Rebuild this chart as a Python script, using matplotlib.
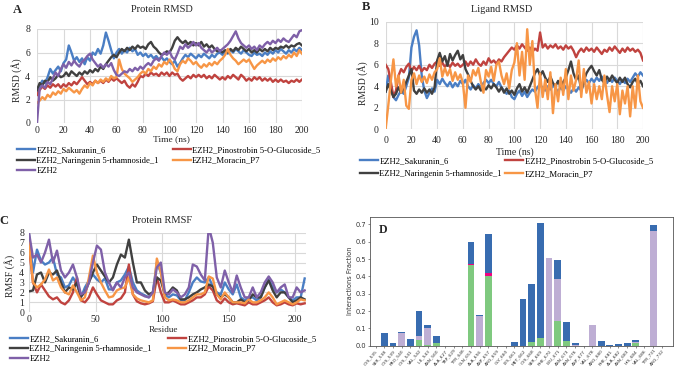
import numpy as np
import matplotlib
matplotlib.use("Agg")
import matplotlib.pyplot as plt

plt.rcParams['font.family'] = ['Liberation Serif', 'DejaVu Serif']

# Series names / colours (Excel-like palette)
names = ["EZH2_Sakuranin_6", "EZH2_Pinostrobin 5-O-Glucoside_5",
         "EZH2_Naringenin 5-rhamnoside_1", "EZH2_Moracin_P7", "EZH2"]
colors = ["#4a7ec4", "#c0433f", "#404040", "#f79646", "#7f60a8"]

# Panel A: protein RMSD, every 2 ns
time_ns = np.arange(0, 201, 2)
prot_sak = [2.4, 3.2, 3.6, 3.4, 3.9, 4.6, 4.2, 4.5, 4.8, 4.4,
            5.1, 5.4, 6.6, 6.0, 5.3, 5.6, 5.2, 5.5, 5.0, 5.6,
            5.3, 6.0, 5.8, 6.3, 5.9, 6.6, 7.7, 7.0, 6.2, 5.5,
            6.0, 6.3, 5.9, 6.2, 6.0, 6.4, 6.1, 6.3, 5.8, 6.0,
            5.7, 5.9, 5.6, 5.8, 5.5, 5.7, 5.4, 5.6, 5.3, 5.5,
            5.2, 5.0, 5.3, 4.8, 5.1, 5.5, 5.8, 5.6, 5.9, 5.7,
            5.5, 5.8, 5.6, 5.9, 5.7, 5.5, 5.8, 5.6, 5.9, 6.0,
            5.8, 6.1, 5.9, 6.2, 6.0, 6.3, 6.1, 5.9, 6.2, 6.0,
            5.8, 5.7, 6.0, 5.8, 5.9, 5.7, 6.0, 5.8, 6.1, 5.9,
            6.2, 6.0, 6.3, 6.1, 5.9, 6.2, 6.0, 6.3, 6.1, 6.4, 6.2]
prot_pino = [2.4, 2.8, 3.1, 2.9, 3.2, 3.0, 3.3, 3.1, 3.3, 3.0,
             3.3, 3.1, 3.4, 3.2, 3.5, 3.3, 3.6, 3.9, 3.6, 3.3,
             3.5, 3.3, 3.6, 3.4, 3.6, 3.4, 3.7, 3.5, 3.8, 3.6,
             3.8, 3.6, 3.4, 3.6, 3.2, 3.0, 3.3, 3.1, 3.5, 4.0,
             3.9, 4.2, 4.0, 4.3, 4.1, 4.2, 4.0, 4.3, 4.1, 4.3,
             4.0, 4.3, 4.1, 4.2, 3.8, 3.6, 3.8, 4.0, 3.8, 4.1,
             3.9, 4.1, 3.9, 4.1, 3.8, 4.0, 3.8, 4.1, 3.9, 3.7,
             3.9, 3.7, 4.0, 3.8, 4.1, 3.9, 3.7, 4.1, 3.9, 3.6,
             3.8, 3.6, 3.9, 3.7, 3.9, 3.6, 3.8, 3.6, 3.8, 3.5,
             3.7, 3.5, 3.7, 3.5, 3.6, 3.4, 3.6, 3.5, 3.7, 3.5, 3.7]
prot_nar = [2.8, 3.4, 3.2, 3.6, 3.5, 3.9, 3.6, 3.8, 4.1, 3.9,
            4.0, 4.3, 4.0, 4.4, 4.2, 4.0, 4.3, 4.1, 4.4, 4.2,
            4.5, 4.3, 4.6, 4.4, 4.8, 4.6, 5.0, 5.3, 5.6, 5.8,
            5.6, 6.0, 6.3, 6.1, 6.4, 6.2, 6.5, 6.3, 6.6, 6.4,
            6.5, 6.3, 6.7, 6.9, 6.5, 6.3, 6.0, 5.8, 5.9, 6.1,
            6.0, 6.4, 7.0, 7.3, 7.0, 6.8, 7.0, 6.7, 6.9, 6.6,
            6.8, 6.6, 6.9, 6.5, 6.7, 6.4, 6.6, 6.3, 6.1, 6.2,
            6.0, 6.2, 6.0, 6.3, 6.1, 6.4, 6.2, 6.5, 6.3, 6.1,
            6.3, 6.0, 6.2, 6.0, 6.3, 6.1, 6.3, 6.1, 6.4, 6.2,
            6.4, 6.3, 6.5, 6.4, 6.6, 6.4, 6.6, 6.5, 6.7, 6.8, 6.6]
prot_mor = [1.7, 1.9, 2.2, 2.0, 2.4, 2.2, 2.6, 2.4, 2.7, 2.5,
            2.9, 2.7, 3.0, 2.8, 2.6, 2.8, 2.5, 2.9, 3.2, 3.0,
            3.4, 3.2, 3.6, 3.4, 3.7, 3.5, 3.8, 3.6, 4.0, 3.8,
            3.9, 5.4, 4.6, 4.2, 4.0, 3.8, 3.5, 3.7, 3.9, 4.2,
            4.4, 4.2, 4.6, 4.4, 4.8, 4.6, 5.0, 4.8, 5.2, 5.0,
            5.4, 5.1, 4.6, 4.4, 5.0, 5.3, 5.1, 5.5, 5.3, 5.0,
            5.2, 4.9, 4.7, 5.0, 4.8, 5.1, 4.9, 5.2, 5.0, 5.3,
            5.5, 5.8, 6.3, 5.8, 5.5, 5.3, 5.0, 5.2, 5.4, 5.2,
            5.4, 5.0, 4.6, 4.9, 5.1, 5.3, 5.1, 5.4, 5.2, 5.5,
            5.3, 5.6, 5.4, 5.7, 5.5, 5.8, 5.6, 6.0, 5.7, 6.2, 5.9]
prot_ezh2 = [0.0, 2.9, 3.2, 3.0, 3.5, 3.3, 3.8, 4.3, 4.0, 4.6,
             5.0, 4.7, 5.2, 4.9, 5.3, 5.0, 4.8, 5.2, 5.4, 5.7,
             5.9, 5.4, 5.1, 4.8, 5.0, 4.7, 5.0, 4.8, 5.1, 4.5,
             4.1, 4.0, 4.2, 4.4, 4.3, 4.6, 4.4, 4.7, 4.5, 4.8,
             4.6, 4.9, 5.1, 4.9, 5.3, 5.5, 5.3, 5.7, 6.0, 5.8,
             6.1, 5.6, 5.4, 5.9, 6.5, 6.3, 6.7, 6.4, 6.6, 6.9,
             6.6, 6.8, 6.4, 6.2, 6.0, 6.3, 6.0, 6.2, 6.4, 6.1,
             6.3, 6.5, 6.7, 7.0, 7.4, 7.8, 7.2, 6.8, 6.6, 6.4,
             6.6, 6.3, 6.5, 6.2, 6.6, 6.4, 6.7, 6.9, 6.7, 7.0,
             6.8, 7.1, 6.9, 7.2, 7.0, 6.9, 7.2, 7.5, 7.3, 7.8, 7.9]

# Panel B: ligand RMSD, every 2 ns
lig_sak = [3.5, 5.0, 4.0, 3.0, 2.7, 3.2, 3.6, 3.3, 4.0, 4.8,
           7.6, 8.6, 9.2, 7.8, 5.0, 3.6, 2.9, 3.4, 3.8, 3.5,
           4.6, 4.2, 4.7, 4.3, 4.0, 4.4, 3.9, 4.3, 4.0, 4.5,
           4.2, 4.6, 4.0, 3.7, 4.1, 3.8, 4.2, 3.9, 4.3, 4.6,
           4.3, 4.6, 4.2, 4.0, 4.4, 3.9, 3.6, 3.3, 3.6, 3.0,
           2.8, 3.3, 3.6, 3.1, 3.5, 3.0, 3.4, 3.7, 3.5, 3.9,
           4.2, 3.8, 3.6, 4.0, 3.7, 4.1, 3.8, 3.5, 3.9, 3.6,
           4.0, 3.7, 3.4, 3.8, 3.5, 3.9, 3.6, 4.2, 4.6, 4.3,
           4.7, 4.4, 4.8, 4.5, 4.9, 4.6, 4.3, 4.7, 4.4, 4.8,
           4.5, 4.2, 4.6, 4.3, 4.7, 4.4, 4.8, 5.2, 4.9, 5.3, 5.0]
lig_pino = [6.0, 5.6, 4.4, 3.0, 3.6, 5.0, 5.6, 5.3, 5.8, 6.1,
            5.4, 5.8, 5.5, 5.9, 5.4, 5.7, 5.5, 6.0, 5.7, 6.1,
            6.3, 5.9, 6.2, 5.8, 6.1, 5.8, 6.2, 5.9, 6.1, 5.8,
            6.0, 6.3, 5.9, 6.3, 6.0, 6.5, 6.1, 5.9, 6.3, 6.0,
            6.6, 6.2, 6.4, 6.1, 6.5, 6.3, 6.7, 7.0, 7.3, 7.6,
            7.4, 7.8, 7.5, 7.9, 7.6, 7.3, 7.6, 7.2, 7.5, 7.3,
            9.0, 7.6, 7.9, 7.5, 7.8, 7.6, 7.9, 7.5, 7.7, 7.4,
            7.8, 7.5, 7.7, 7.3, 6.7, 7.2, 7.5, 7.2, 7.6, 7.3,
            7.5, 7.2, 7.6, 7.3, 7.0, 7.4, 7.2, 7.6, 7.3, 7.7,
            7.4, 7.1, 7.5, 7.2, 7.6, 7.3, 7.5, 7.2, 7.4, 7.1, 6.4]
lig_nar = [3.5, 4.2, 3.6, 3.0, 3.3, 3.9, 3.4, 3.8, 4.4, 5.0,
           5.6, 3.6, 3.3, 3.7, 3.4, 3.8, 3.4, 3.7, 3.3, 3.9,
           6.4, 7.1, 6.3, 6.8, 5.9, 7.0, 6.4, 6.9, 7.3, 6.5,
           6.9, 5.6, 5.1, 4.5, 4.0, 3.7, 4.0, 3.6, 3.9, 3.7,
           4.1, 3.8, 4.2, 3.9, 3.5, 3.9, 3.4, 3.8, 3.3, 3.6,
           3.2, 3.8, 4.2, 3.5, 3.9, 3.4, 4.0, 4.6, 5.2, 5.6,
           5.0, 5.4, 4.8, 4.4, 4.9, 4.3, 4.0, 4.5, 3.9, 4.4,
           4.8, 5.5, 6.3, 5.2, 4.6, 5.0, 3.6, 4.5, 5.2, 5.6,
           5.9, 5.4, 5.0, 5.5, 4.6, 4.3, 4.9, 4.5, 5.0, 4.6,
           4.3, 4.8, 4.4, 4.8, 4.2, 3.9, 4.4, 4.7, 4.2, 4.5, 4.0]
lig_mor = [0.1, 2.2, 4.5, 6.5, 4.0, 5.0, 3.4, 4.6, 2.2, 1.9,
           4.6, 5.2, 4.2, 5.0, 4.4, 4.9, 4.3, 5.1, 4.6, 5.3,
           5.6, 6.6, 4.9, 5.7, 5.0, 5.6, 4.5, 5.3, 4.6, 5.1,
           4.3, 2.0, 5.0, 4.4, 5.5, 5.0, 5.7, 4.4, 3.4, 5.5,
           4.9, 5.8, 4.5, 6.0, 6.3, 5.0, 4.2, 5.2, 3.8, 5.5,
           6.2, 8.0, 5.0, 7.2, 4.6, 9.3, 6.0, 8.2, 3.8, 2.0,
           5.2, 3.0, 4.6, 2.8, 5.3, 1.5, 4.2, 2.6, 4.8, 3.2,
           5.6, 2.8, 5.0, 3.6, 4.6, 6.4, 3.0, 5.6, 3.4, 4.4,
           2.4, 4.2, 2.8, 4.0, 2.8, 5.0, 3.2, 1.6, 4.0, 2.6,
           4.2, 1.4, 3.6, 2.4, 4.0, 1.2, 4.0, 2.0, 5.0, 2.6, 2.0]

# Panel C: protein RMSF, every 3 residues
residue = np.arange(0, 208, 3)
rmsf_sak = [7.8, 4.0, 6.3, 5.2, 4.8, 5.0, 5.5, 3.8, 3.5, 2.5,
            2.7, 3.5, 2.8, 1.5, 2.5, 3.2, 3.8, 3.3, 3.0, 3.4,
            2.3, 2.3, 3.0, 3.2, 3.8, 4.6, 3.0, 2.2, 1.9, 1.7,
            1.5, 2.0, 5.0, 4.0, 1.8, 1.5, 1.8, 1.7, 1.2, 1.2,
            2.0, 3.0, 3.5, 3.1, 3.0, 3.5, 2.6, 2.0, 1.8, 3.0,
            2.3, 1.8, 2.8, 1.5, 1.2, 1.5, 1.5, 1.2, 1.5, 2.5,
            3.3, 2.5, 2.0, 2.3, 2.0, 1.5, 1.2, 1.5, 1.5, 3.4]
rmsf_pino = [6.5, 3.0, 2.0, 2.8, 2.2, 1.6, 1.3, 1.5, 1.0, 0.8,
             1.2, 2.0, 3.5, 1.2, 1.0, 1.5, 2.5, 1.8, 1.2, 1.0,
             0.8, 0.8, 1.2, 1.4, 2.0, 4.8, 1.8, 1.1, 0.9, 0.8,
             0.9, 1.1, 3.5, 2.0, 1.0, 1.0, 1.2, 1.0, 0.8, 0.8,
             1.0, 1.2, 1.5, 1.5, 1.8, 2.6, 2.2, 1.2, 0.9, 1.4,
             1.0, 0.8, 0.9, 0.8, 0.7, 1.0, 0.8, 0.8, 1.0, 1.2,
             1.5, 1.0, 0.7, 0.8, 1.0, 0.8, 0.7, 0.9, 0.8, 0.9]
rmsf_nar = [2.1, 2.2, 3.8, 4.0, 3.0, 4.0, 3.8, 4.2, 3.0, 2.0,
            2.5, 2.3, 3.0, 1.6, 2.0, 3.0, 4.0, 4.8, 4.2, 3.6,
            3.0, 3.5, 4.8, 5.8, 5.5, 7.3, 5.0, 3.0, 3.0, 2.2,
            1.8, 2.0, 3.5, 3.2, 1.8, 2.0, 2.5, 2.2, 1.3, 1.3,
            1.5, 1.8, 2.0, 2.3, 2.5, 2.8, 2.6, 1.8, 1.5, 1.8,
            1.5, 1.0, 1.0, 1.3, 1.0, 1.2, 1.8, 1.5, 1.5, 2.5,
            3.2, 2.2, 1.5, 2.0, 2.0, 1.5, 1.0, 1.2, 1.5, 1.3]
rmsf_mor = [7.0, 3.0, 2.5, 2.8, 3.3, 4.3, 3.2, 3.5, 2.5, 2.0,
            1.8, 2.7, 2.0, 1.2, 1.5, 3.5, 5.7, 4.0, 3.0, 2.2,
            1.5, 1.6, 2.2, 2.4, 2.5, 3.5, 1.8, 1.4, 1.2, 1.1,
            1.0, 1.2, 5.4, 4.0, 1.5, 1.2, 1.3, 1.2, 1.0, 1.0,
            1.2, 1.5, 1.8, 1.8, 2.0, 3.6, 3.4, 1.8, 1.3, 2.0,
            1.5, 1.0, 1.0, 1.0, 0.9, 1.3, 1.0, 1.0, 1.2, 1.5,
            2.0, 1.5, 0.8, 1.0, 1.2, 1.0, 0.8, 1.0, 1.3, 1.2]
rmsf_ezh2 = [8.0, 5.5, 5.8, 5.0, 6.0, 7.3, 5.0, 6.2, 4.2, 3.5,
             4.0, 4.8, 3.5, 1.8, 2.0, 3.0, 5.0, 6.7, 6.3, 4.0,
             3.0, 2.2, 3.0, 2.5, 3.5, 4.0, 2.5, 2.0, 1.8, 1.6,
             1.5, 2.0, 4.5, 5.0, 2.0, 1.8, 2.3, 2.0, 1.5, 1.8,
             2.5, 4.8, 4.6, 3.8, 3.2, 8.6, 7.0, 3.5, 2.5, 4.2,
             3.0, 2.0, 3.7, 2.5, 1.5, 1.5, 2.5, 1.5, 2.0, 3.0,
             3.6, 3.0, 2.0, 2.5, 2.8, 1.5, 1.5, 2.5, 2.0, 2.2]

# Panel D: protein-ligand contacts
contact_res = ["CYS_535", "SER_538", "CYS_539", "PRO_540", "CYS_541", "VAL_542",
               "ILE_543", "ASN_560", "ALA_627", "TRP_629", "TYR_646", "GLN_653",
               "ALA_656", "ASP_657", "ARG_659", "GLY_660", "LYS_661", "MET_662",
               "CYS_668", "SER_669", "PHE_670", "LEU_671", "ASN_673", "ASN_676",
               "ASP_677", "VAL_678", "ARG_680", "PHE_681", "ALA_682", "ASN_683",
               "HIS_684", "VAL_686", "TYR_731", "ARG_732"]
hbonds = [0, 0, 0, 0, 0, 0.035, 0.005, 0.015, 0, 0, 0, 0.465, 0, 0.40, 0, 0, 0,
          0, 0.02, 0.045, 0, 0.145, 0.025, 0, 0, 0, 0, 0, 0, 0, 0.018, 0, 0, 0]
hydrophobic = [0, 0, 0, 0.075, 0, 0.02, 0.10, 0, 0, 0, 0, 0, 0.17, 0, 0, 0, 0,
               0, 0, 0, 0.505, 0.24, 0, 0.003, 0, 0.12, 0, 0, 0, 0, 0.005, 0, 0.665, 0]
ionic = [0, 0, 0, 0, 0, 0, 0, 0, 0, 0, 0, 0.006, 0, 0.018, 0, 0, 0,
         0, 0, 0, 0, 0, 0, 0, 0, 0, 0, 0, 0, 0, 0, 0, 0, 0]
water = [0, 0.073, 0.013, 0.002, 0.04, 0.145, 0.015, 0.043, 0, 0, 0, 0.125, 0.005,
         0.227, 0, 0, 0.022, 0.27, 0.335, 0.665, 0.002, 0.11, 0.113, 0.01, 0, 0,
         0.025, 0.005, 0.01, 0.018, 0.012, 0, 0.03, 0]

W, H = 675, 373
fig = plt.figure(figsize=(W / 100, H / 100), dpi=100)
txt = "#262626"


def box(l, t, r, b):
    # pixel box -> figure fraction rect
    return [l / W, 1 - b / H, (r - l) / W, (b - t) / H]


def ftext(x, y, s, **kw):
    fig.text(x / W, 1 - y / H, s, ha=kw.pop("ha", "center"), va="center",
             color=txt, **kw)


def excel_axes(ax, xt, yt, xlim, ylim, pad):
    ax.set_xlim(*xlim)
    ax.set_ylim(*ylim)
    ax.set_xticks(xt)
    ax.set_yticks(yt)
    for s in ax.spines.values():
        s.set_visible(False)
    ax.grid(True, color="#d9d9d9", lw=0.8)
    ax.set_axisbelow(True)
    ax.tick_params(length=0, labelsize=7, colors=txt, pad=pad)


def legend_at(x, y, handles, labels, colsp, lsp):
    fig.legend(handles, labels, loc="upper left", ncol=2,
               bbox_to_anchor=(x / W, 1 - y / H), frameon=False,
               fontsize=6.2, borderpad=0, borderaxespad=0, handlelength=2.1,
               handletextpad=0.15, columnspacing=colsp, labelspacing=lsp)


LW = 1.7

# ---- A ----
axA = fig.add_axes(box(37, 29, 302, 123))
linesA = []
for ys, c in zip([prot_sak, prot_pino, prot_nar, prot_mor, prot_ezh2], colors):
    ln, = axA.plot(time_ns, ys, color=c, lw=LW)
    linesA.append(ln)
excel_axes(axA, range(0, 201, 20), range(0, 9, 2), (0, 200), (0, 8), 5)
axA.tick_params(axis="x", pad=2)
ftext(162, 10, "Protein RMSD", fontsize=7.5)
ftext(17, 10, "A", fontsize=9, fontweight="bold")
ftext(171, 139.5, "Time (ns)", fontsize=6.8)
ftext(16.5, 80, "RMSD (Å)", fontsize=7, rotation=90)
order = [0, 2, 4, 1, 3]
legend_at(17, 146, [linesA[i] for i in order], [names[i] for i in order], 1.6, 0.3)

# ---- B ----
axB = fig.add_axes(box(385.7, 21.7, 643, 129.3))
linesB = []
for ys, c in zip([lig_sak, lig_pino, lig_nar, lig_mor], colors[:4]):
    ln, = axB.plot(time_ns, ys, color=c, lw=LW)
    linesB.append(ln)
excel_axes(axB, range(0, 201, 20), range(0, 11, 2), (0, 200), (0, 10), 5)
ftext(501.7, 9.7, "Ligand RMSD", fontsize=7.5)
ftext(366.5, 6.5, "B", fontsize=9, fontweight="bold")
ftext(515, 151.7, "Time (ns)", fontsize=7)
ftext(362.3, 83, "RMSD (Å)", fontsize=7, rotation=90)
order = [0, 2, 1, 3]
legend_at(360, 157, [linesB[i] for i in order], [names[i] for i in order], 0.4, 0.6)

# ---- C ----
axC = fig.add_axes(box(29, 232.7, 306, 312.3))
linesC = []
for ys, c in zip([rmsf_sak, rmsf_pino, rmsf_nar, rmsf_mor, rmsf_ezh2], colors):
    ln, = axC.plot(residue, ys, color=c, lw=LW)
    linesC.append(ln)
excel_axes(axC, range(0, 201, 50), range(0, 9), (0, 208), (0, 8), 3.5)
axC.tick_params(axis="x", pad=2)
ftext(162.3, 221, "Protein RMSF", fontsize=7.5)
ftext(4, 220.7, "C", fontsize=9, fontweight="bold")
ftext(163.3, 330.5, "Residue", fontsize=6.6)
ftext(10, 276, "RMSF (Å)", fontsize=7, rotation=90)
order = [0, 2, 4, 1, 3]
legend_at(10, 335, [linesC[i] for i in order], [names[i] for i in order], 1.9, 0.2)

# ---- D ----
axD = fig.add_axes(box(370, 216.7, 673, 345.7))
xpos = np.arange(len(contact_res))
bottom = np.zeros(len(contact_res))
for vals, c in zip([hbonds, hydrophobic, ionic, water],
                   ["#7fc97f", "#beaed4", "#f0027f", "#386cb0"]):
    axD.bar(xpos, vals, 0.8, bottom=bottom, color=c)
    bottom = bottom + np.array(vals)
axD.set_xlim(-0.65, 34.3)
axD.set_ylim(0, 0.745)
axD.set_yticks(np.arange(0, 0.71, 0.1))
axD.set_yticklabels(["%.1f" % v for v in np.arange(0, 0.71, 0.1)],
                    family="DejaVu Sans")
axD.set_xticks(xpos)
axD.set_xticklabels(contact_res, rotation=50, ha="right", rotation_mode="anchor",
                    family="DejaVu Sans", fontsize=3.2)
axD.tick_params(axis="y", labelsize=4.8, length=1.5, width=0.4, pad=1, colors="#333333")
axD.tick_params(axis="x", length=1.2, width=0.4, pad=1, colors="#333333")
for s in axD.spines.values():
    s.set_color("#555555")
    s.set_linewidth(0.6)
axD.set_ylabel("Interactions Fraction", family="DejaVu Sans", fontsize=4.8,
               labelpad=2, color="#333333")
ftext(383.5, 230, "D", fontsize=8.5, fontweight="bold")

fig.savefig("out.png", dpi=100)
